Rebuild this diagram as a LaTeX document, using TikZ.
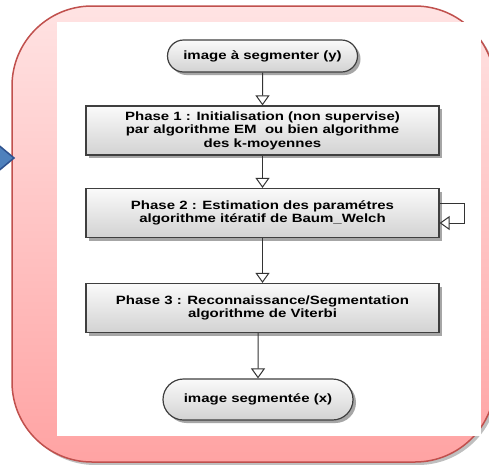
\documentclass[tikz,border=0pt]{standalone}
\usepackage{fontspec}
\setmainfont[FakeStretch=1.25]{Liberation Sans}
\usepackage{tikz}
\usetikzlibrary{arrows.meta,shapes.misc,shadows}

\definecolor{frameRed}{HTML}{C0504D}
\definecolor{pinkTop}{HTML}{FFE3E3}
\definecolor{pinkBot}{HTML}{FFA3A3}
\definecolor{boxLine}{HTML}{3F3F3F}
\definecolor{arrowBlue}{HTML}{4F81BD}
\definecolor{arrowEdge}{HTML}{2F528F}

\begin{document}
\begin{tikzpicture}[x=1pt, y=-1pt,
        every node/.style={draw=boxLine, line width=1.2pt, top color=gray!4, bottom color=gray!35,
            drop shadow={shadow xshift=3pt, shadow yshift=-3pt, fill=gray!70, opacity=1},
            font=\fontsize{12}{13.5}\selectfont\bfseries, align=center, inner sep=2pt},
        phase/.style={rectangle, minimum width=353pt, minimum height=49pt},
        term/.style={rounded rectangle, minimum width=194pt, minimum height=32pt},
        flow/.style={draw=black!80, line width=1pt, -{Triangle[open, fill=white, width=14pt, length=10pt]}}]
    \useasboundingbox (0,0) rectangle (489,464);

    % frame
    \draw[rounded corners=80pt, top color=pinkTop, bottom color=pinkBot, draw=frameRed, line width=1.5pt,
        drop shadow={shadow xshift=3pt, shadow yshift=-3pt, fill=gray!50, opacity=1}] (12,6) rectangle (495,462);
    \fill[white] (57,22) rectangle (481,436);
    \filldraw[fill=arrowBlue, draw=arrowEdge, line width=1.5pt] (-4,143) -- (14,158) -- (-4,173) -- cycle;

    % flowchart
    \node[term] (start) at (262.5,56) {image à segmenter (y)};
    \node[phase] (phaseA) at (262.5,130.5) {Phase 1 : Initialisation (non supervise)\\par algorithme EM~ ou bien algorithme\\des k-moyennes};
    \node[phase] (phaseB) at (262.5,213) {Phase 2 : Estimation des paramétres\\algorithme itératif de Baum\_Welch};
    \node[phase] (phaseC) at (262.5,308) {Phase 3 : Reconnaissance/Segmentation\\algorithme de Viterbi};
    \node[term, minimum height=41pt] (stop) at (258,399.5) {image segmentée (x)};

    \draw[flow] (start) -- (phaseA);
    \draw[flow] (phaseA) -- (phaseB);
    \draw[flow] (phaseB) -- (phaseC);
    \draw[flow] (phaseC.south -| stop.north) -- (stop);
    \draw[flow] ([yshift=10pt]phaseB.east) -- ++(25,0) |- ([yshift=-10pt]phaseB.east);

\end{tikzpicture}
\end{document}
